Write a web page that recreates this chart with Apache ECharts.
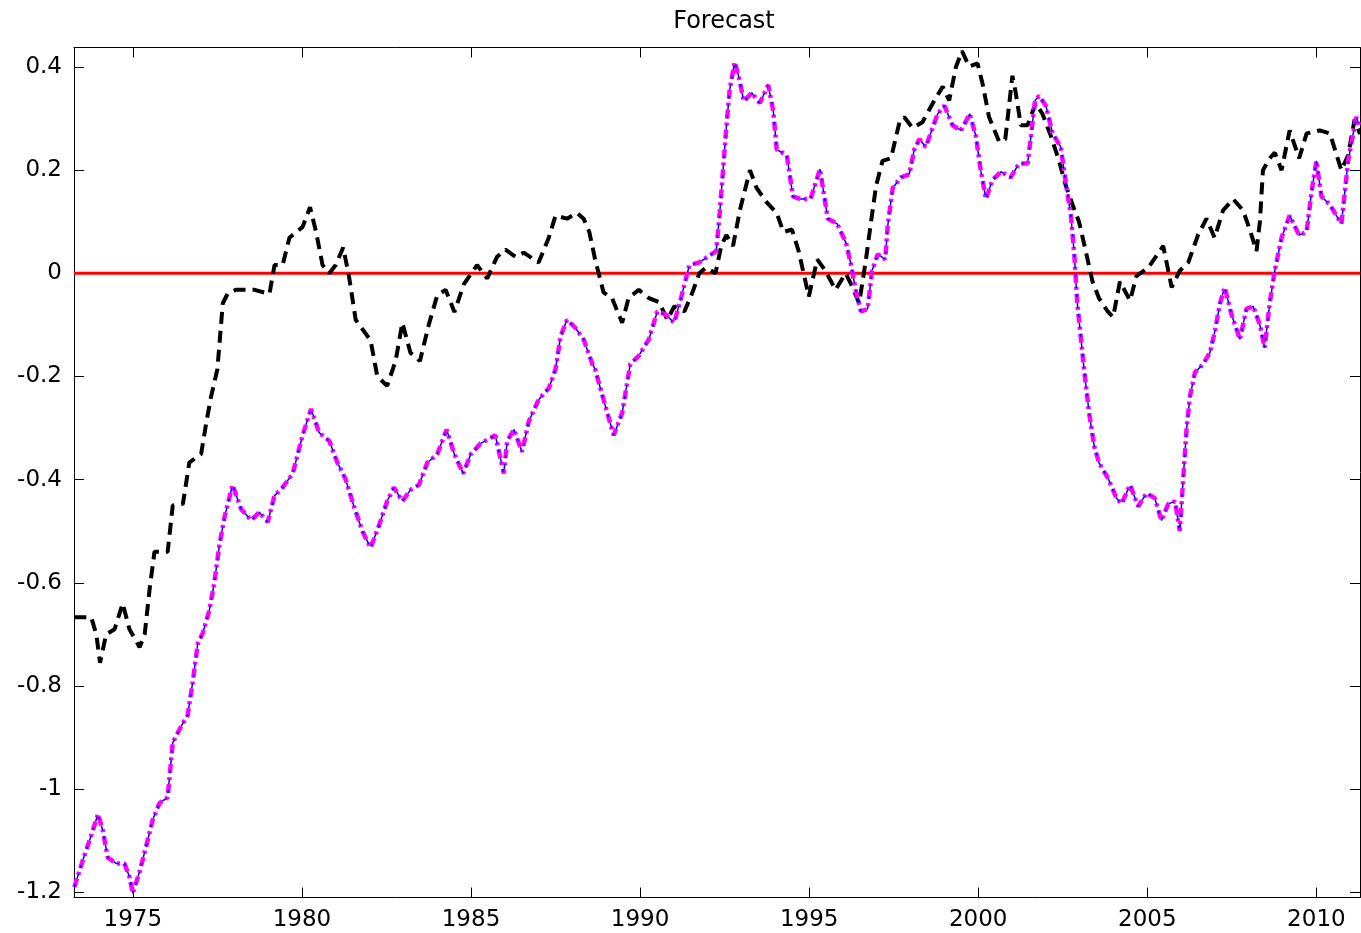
<!DOCTYPE html>
<html>
<head>
<meta charset="utf-8">
<script src="https://cdn.jsdelivr.net/npm/echarts@6/dist/echarts.min.js"></script>
<style>
html,body{margin:0;padding:0;background:#fff;}
#chart{width:1361px;height:933px;}
</style>
</head>
<body>
<div id="chart"></div>
<script>
// ---- data ----
const xTicks = [1975, 1980, 1985, 1990, 1995, 2000, 2005, 2010];
const yTicks = [-1.2, -1, -0.8, -0.6, -0.4, -0.2, 0, 0.2, 0.4];

const blackYears = [
 1973.27,1973.77,1973.92,1974.03,1974.21,1974.46,1974.70,1974.90,1975.20,1975.35,
 1975.50,1975.64,1975.89,1976.03,1976.18,1976.48,1976.67,1977.02,1977.17,1977.31,
 1977.50,1977.66,1977.80,1978.05,1978.60,1979.04,1979.19,1979.43,1979.63,1980.02,
 1980.24,1980.42,1980.61,1980.81,1981.00,1981.22,1981.39,1981.59,1982.03,1982.23,
 1982.52,1982.77,1982.97,1983.21,1983.49,1983.75,1984.00,1984.25,1984.51,1984.79,
 1985.18,1985.48,1985.77,1986.02,1986.32,1986.56,1987.00,1987.30,1987.50,1987.84,
 1988.14,1988.33,1988.50,1988.67,1988.92,1989.17,1989.47,1989.66,1989.96,1990.26,
 1990.56,1990.81,1991.01,1991.31,1991.55,1991.75,1991.95,1992.23,1992.40,1992.55,
 1992.75,1992.95,1993.25,1993.45,1993.74,1994.04,1994.24,1994.49,1994.69,1994.99,
 1995.24,1995.48,1995.78,1996.08,1996.24,1996.48,1996.68,1996.83,1996.98,1997.17,
 1997.42,1997.67,1997.81,1998.06,1998.35,1998.70,1998.95,1999.14,1999.34,1999.52,
 1999.73,1999.98,2000.13,2000.32,2000.62,2000.80,2000.92,2001.01,2001.11,2001.26,
 2001.46,2001.70,2001.90,2002.15,2002.39,2002.59,2002.79,2002.98,2003.18,2003.38,
 2003.57,2003.83,2003.99,2004.19,2004.49,2004.68,2005.03,2005.47,2005.72,2005.96,
 2006.21,2006.50,2006.75,2006.99,2007.24,2007.54,2007.83,2008.03,2008.23,2008.33,
 2008.42,2008.62,2008.77,2008.97,2009.21,2009.49,2009.71,2010.10,2010.40,2010.74,
 2010.94,2011.13,2011.29
];
const blackValues = [
 -0.667,-0.667,-0.700,-0.755,-0.700,-0.690,-0.640,-0.690,-0.725,-0.700,
 -0.610,-0.540,-0.540,-0.540,-0.450,-0.447,-0.367,-0.350,-0.290,-0.240,
 -0.186,-0.058,-0.040,-0.032,-0.032,-0.040,0.016,0.016,0.069,0.090,
 0.128,0.080,0.016,0.000,0.016,0.050,-0.005,-0.090,-0.130,-0.200,
 -0.218,-0.170,-0.096,-0.154,-0.170,-0.100,-0.043,-0.032,-0.075,-0.021,
 0.016,-0.010,0.032,0.046,0.032,0.040,0.021,0.069,0.112,0.106,
 0.117,0.106,0.080,0.027,-0.037,-0.048,-0.096,-0.048,-0.032,-0.048,
 -0.056,-0.090,-0.064,-0.074,-0.037,0.000,0.011,0.000,0.053,0.074,
 0.053,0.122,0.200,0.165,0.138,0.117,0.080,0.085,0.043,-0.045,
 0.027,0.005,-0.032,0.000,-0.021,-0.058,0.027,0.100,0.170,0.218,
 0.223,0.293,0.303,0.282,0.293,0.335,0.362,0.335,0.400,0.431,
 0.401,0.407,0.367,0.303,0.255,0.260,0.330,0.383,0.350,0.287,
 0.287,0.330,0.309,0.266,0.218,0.170,0.133,0.100,0.043,-0.016,
 -0.048,-0.074,-0.085,-0.016,-0.053,-0.005,0.011,0.053,-0.027,0.005,
 0.021,0.074,0.106,0.069,0.122,0.144,0.122,0.085,0.043,0.100,
 0.200,0.223,0.234,0.200,0.277,0.223,0.271,0.277,0.271,0.200,
 0.229,0.298,0.270
];

const pinkYears = [
 1973.27,1973.52,1973.77,1973.97,1974.11,1974.26,1974.51,1974.75,1974.90,1975.00,
 1975.20,1975.39,1975.59,1975.79,1976.03,1976.18,1976.43,1976.62,1976.77,1976.92,
 1977.07,1977.26,1977.41,1977.56,1977.71,1977.95,1978.20,1978.50,1978.74,1978.99,
 1979.19,1979.43,1979.73,1980.02,1980.27,1980.51,1980.81,1981.05,1981.29,1981.54,
 1981.79,1982.03,1982.28,1982.52,1982.72,1982.97,1983.21,1983.46,1983.71,1984.00,
 1984.28,1984.51,1984.77,1984.99,1985.28,1985.72,1985.97,1986.07,1986.27,1986.51,
 1986.71,1987.00,1987.30,1987.50,1987.65,1987.84,1988.09,1988.33,1988.59,1988.67,
 1988.92,1989.22,1989.47,1989.71,1989.96,1990.26,1990.51,1990.76,1991.01,1991.21,
 1991.46,1991.75,1992.00,1992.25,1992.35,1992.45,1992.55,1992.65,1992.80,1992.93,
 1993.07,1993.30,1993.54,1993.79,1993.94,1994.04,1994.34,1994.52,1994.74,1995.04,
 1995.32,1995.55,1995.83,1996.09,1996.24,1996.39,1996.53,1996.73,1996.86,1997.03,
 1997.25,1997.32,1997.47,1997.71,1997.96,1998.11,1998.26,1998.45,1998.65,1998.80,
 1999.00,1999.24,1999.49,1999.75,1999.93,2000.08,2000.23,2000.42,2000.67,2000.96,
 2001.21,2001.46,2001.56,2001.68,2001.80,2002.00,2002.20,2002.44,2002.59,2002.74,
 2002.84,2002.93,2003.03,2003.13,2003.28,2003.43,2003.57,2003.85,2004.09,2004.24,
 2004.49,2004.73,2004.98,2005.22,2005.42,2005.62,2005.82,2005.96,2006.06,2006.16,
 2006.26,2006.41,2006.65,2006.85,2007.00,2007.15,2007.29,2007.49,2007.74,2007.93,
 2008.13,2008.33,2008.47,2008.62,2008.77,2008.97,2009.21,2009.49,2009.71,2009.85,
 2010.00,2010.15,2010.40,2010.74,2010.94,2011.18,2011.29
];
const pinkValues = [
 -1.190,-1.138,-1.090,-1.048,-1.080,-1.133,-1.144,-1.144,-1.170,-1.202,
 -1.160,-1.112,-1.059,-1.027,-1.016,-0.910,-0.878,-0.857,-0.793,-0.718,
 -0.697,-0.654,-0.600,-0.527,-0.473,-0.410,-0.457,-0.479,-0.463,-0.482,
 -0.431,-0.415,-0.388,-0.314,-0.263,-0.309,-0.325,-0.367,-0.399,-0.452,
 -0.500,-0.532,-0.489,-0.442,-0.415,-0.442,-0.420,-0.410,-0.367,-0.351,
 -0.303,-0.351,-0.388,-0.351,-0.330,-0.314,-0.388,-0.325,-0.303,-0.346,
 -0.287,-0.245,-0.223,-0.186,-0.122,-0.090,-0.106,-0.128,-0.176,-0.186,
 -0.245,-0.314,-0.271,-0.176,-0.160,-0.128,-0.074,-0.080,-0.096,-0.048,
 0.016,0.021,0.032,0.043,0.112,0.197,0.282,0.356,0.410,0.378,
 0.333,0.350,0.330,0.365,0.314,0.240,0.229,0.149,0.144,0.144,
 0.202,0.106,0.096,0.059,0.016,-0.037,-0.074,-0.069,0.005,0.037,
 0.027,0.090,0.165,0.186,0.192,0.240,0.260,0.245,0.282,0.309,
 0.325,0.287,0.277,0.309,0.266,0.197,0.144,0.181,0.197,0.186,
 0.213,0.213,0.266,0.335,0.344,0.325,0.271,0.245,0.176,0.112,
 0.037,-0.058,-0.122,-0.186,-0.271,-0.335,-0.367,-0.399,-0.436,-0.447,
 -0.410,-0.452,-0.426,-0.436,-0.479,-0.447,-0.442,-0.500,-0.400,-0.303,
 -0.239,-0.192,-0.176,-0.154,-0.112,-0.058,-0.027,-0.080,-0.128,-0.069,
 -0.064,-0.100,-0.144,-0.058,0.005,0.069,0.112,0.074,0.080,0.154,
 0.218,0.149,0.133,0.096,0.218,0.303,0.282
];

const zeroLineYears = [1973.26, 2011.29];
const zeroLineValues = [0, 0];

// ---- chart ----
const X_MIN = 1973.26, X_MAX = 2011.29;
const Y_MIN = -1.2101, Y_MAX = 0.4378;
const FONT = 'DejaVu Sans';

function zip(xs, ys) { return xs.map((x, i) => [x, ys[i]]); }

const baseX = {
  type: 'value', min: X_MIN, max: X_MAX,
  splitLine: { show: false },
  axisLine: { show: true, onZero: false, lineStyle: { color: '#000', width: 1 } },
  axisTick: { show: true, inside: true, length: 10, customValues: xTicks, lineStyle: { color: '#000', width: 1 } },
  axisLabel: { customValues: xTicks, color: '#000', fontFamily: FONT, fontSize: 23, margin: 11,
    formatter: v => String(v) }
};
const baseY = {
  type: 'value', min: Y_MIN, max: Y_MAX,
  splitLine: { show: false },
  axisLine: { show: true, onZero: false, lineStyle: { color: '#000', width: 1 } },
  axisTick: { show: true, inside: true, length: 10, customValues: yTicks, lineStyle: { color: '#000', width: 1 } },
  axisLabel: { customValues: yTicks, color: '#000', fontFamily: FONT, fontSize: 23, margin: 12,
    formatter: v => String(Math.round(v * 10) / 10) }
};

const chart = echarts.init(document.getElementById('chart'), null, { renderer: 'canvas' });
chart.setOption({
  backgroundColor: '#fff',
  animation: false,
  title: {
    text: 'Forecast', left: 719, top: 5, textAlign: 'center',
    textStyle: { fontFamily: FONT, fontSize: 24, fontWeight: 'normal', color: '#000' }
  },
  grid: { left: 74, right: 1, top: 47.5, bottom: 35.5, containLabel: false },
  xAxis: [
    Object.assign({}, baseX, { position: 'bottom' }),
    Object.assign({}, baseX, { position: 'top', axisLabel: { show: false } })
  ],
  yAxis: [
    Object.assign({}, baseY, { position: 'left' }),
    Object.assign({}, baseY, { position: 'right', axisLabel: { show: false } })
  ],
  series: [
    {
      type: 'line', name: 'zero', data: zip(zeroLineYears, zeroLineValues),
      showSymbol: false, symbol: 'none', silent: true,
      lineStyle: { color: '#ff0000', width: 3, type: 'solid' }, z: 1
    },
    {
      type: 'line', name: 'black', data: zip(blackYears, blackValues),
      showSymbol: false, symbol: 'none', smooth: false, clip: true,
      lineStyle: { color: '#000', width: 4, type: [12, 7], cap: 'butt' }, z: 3
    },
    {
      type: 'line', name: 'magenta', data: zip(pinkYears, pinkValues),
      showSymbol: false, symbol: 'none', clip: true,
      lineStyle: { color: '#ff00ff', width: 4.5, type: [9, 4, 3, 4], cap: 'butt' }, z: 4
    },
    {
      type: 'line', name: 'blue', data: zip(pinkYears, pinkValues),
      showSymbol: false, symbol: 'none', clip: true,
      lineStyle: { color: '#0000ff', width: 1.5, type: [3, 6, 5, 6], cap: 'butt' }, z: 5
    }
  ]
});
</script>
</body>
</html>
